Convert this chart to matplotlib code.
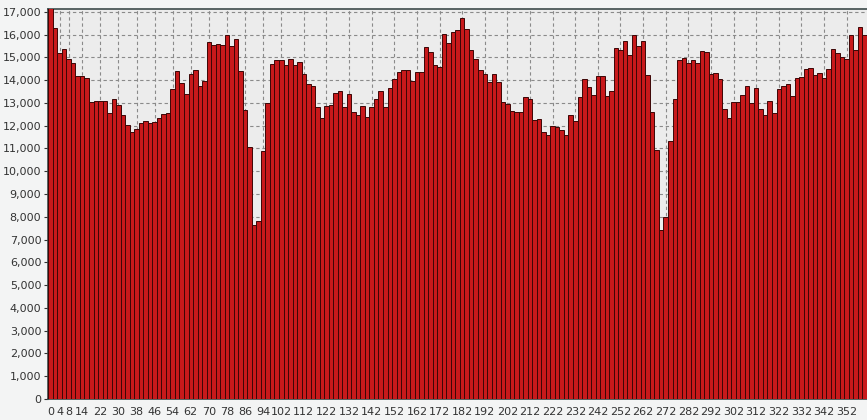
import matplotlib
matplotlib.use("Agg")
import matplotlib.pyplot as plt
from matplotlib.ticker import FuncFormatter, MultipleLocator

# categories every 2 degrees, 0..360
angles = list(range(0, 362, 2))

counts = [
    17400, 16300, 15200, 15380, 14940, 14750, 14200, 14160, 14100, 13060,
    13100, 13100, 13070, 12550, 13150, 12900, 12470, 12010, 11700, 11850,
    12120, 12190, 12130, 12180, 12340, 12510, 12540, 13620, 14400, 13880,
    13400, 14280, 14430, 13740, 13940, 15660, 15530, 15570, 15530, 16000,
    15500, 15810, 14400, 12700, 11060, 7630, 7800, 10900, 12990, 14720,
    14870, 14870, 14680, 14910, 14650, 14800, 14250, 13840, 13720, 12810,
    12320, 12880, 12920, 13430, 13540, 12810, 13400, 12590, 12490, 12880,
    12370, 12840, 13180, 13540, 12810, 13650, 14060, 14350, 14430, 14430,
    13940, 14350, 14350, 15460, 15240, 14650, 14570, 16040, 15630, 16120,
    16190, 16710, 16260, 15310, 14910, 14430, 14250, 13910, 14250, 13910,
    13030, 12930, 12630, 12590, 12590, 13250, 13150, 12250, 12290, 11710,
    11600, 11970, 11930, 11810, 11590, 12470, 12220, 13280, 14060, 13690,
    13350, 14160, 14180, 13320, 13540, 15430, 15310, 15720, 15090, 16000,
    15500, 15720, 14210, 12590, 10940, 7440, 7990, 11340, 13180, 14870,
    14990, 14760, 14870, 14750, 15280, 15240, 14280, 14310, 14060, 12740,
    12340, 13030, 13030, 13350, 13760, 12990, 13650, 12710, 12490, 13070,
    12560, 13620, 13760, 13810, 13320, 14090, 14130, 14470, 14540, 14210,
    14310, 14100, 14500, 15380, 15210, 15010, 14940, 16000, 15340, 16310,
    15970,
]

# angles that get a label on the x axis
tick_angles = [0, 4, 8, 14, 22, 30, 38, 46, 54, 62, 70, 78, 86, 94, 102,
               112, 122, 132, 142, 152, 162, 172, 182, 192, 202, 212, 222,
               232, 242, 252, 262, 272, 282, 292, 302, 312, 322, 332, 342, 352]

fig = plt.figure(figsize=(8.67, 4.2), dpi=100, facecolor="#f3f4f4")
ax = fig.add_axes([48.3 / 867, 21 / 420, 1 - 48.3 / 867, 389.5 / 420])
ax.set_facecolor("#ececec")

pos = list(range(len(angles)))
ax.bar(pos, counts, width=1.0, color="#c8191b", edgecolor="#3c0606",
       linewidth=0.7, zorder=3)

ax.set_xlim(-0.5, len(angles) - 0.5)
ax.set_ylim(0, 17100)

ax.yaxis.set_major_locator(MultipleLocator(1000))
ax.yaxis.set_major_formatter(FuncFormatter(lambda v, p: f"{int(v):,}"))
ax.set_xticks([angles.index(a) for a in tick_angles])
ax.set_xticklabels([str(a) for a in tick_angles])

ax.grid(True, color="#8a8a8a", linestyle=(0, (3, 2.5)), linewidth=0.8, zorder=0)
ax.tick_params(axis="x", length=0, pad=6, labelsize=8, colors="#333333")
ax.tick_params(axis="y", length=3, pad=2, labelsize=8, colors="#333333")

for side in ("left", "top", "bottom"):
    ax.spines[side].set_color("#3d4a4a")
    ax.spines[side].set_linewidth(1.2)
ax.spines["right"].set_visible(False)

fig.savefig("out.png", dpi=100, facecolor=fig.get_facecolor())
